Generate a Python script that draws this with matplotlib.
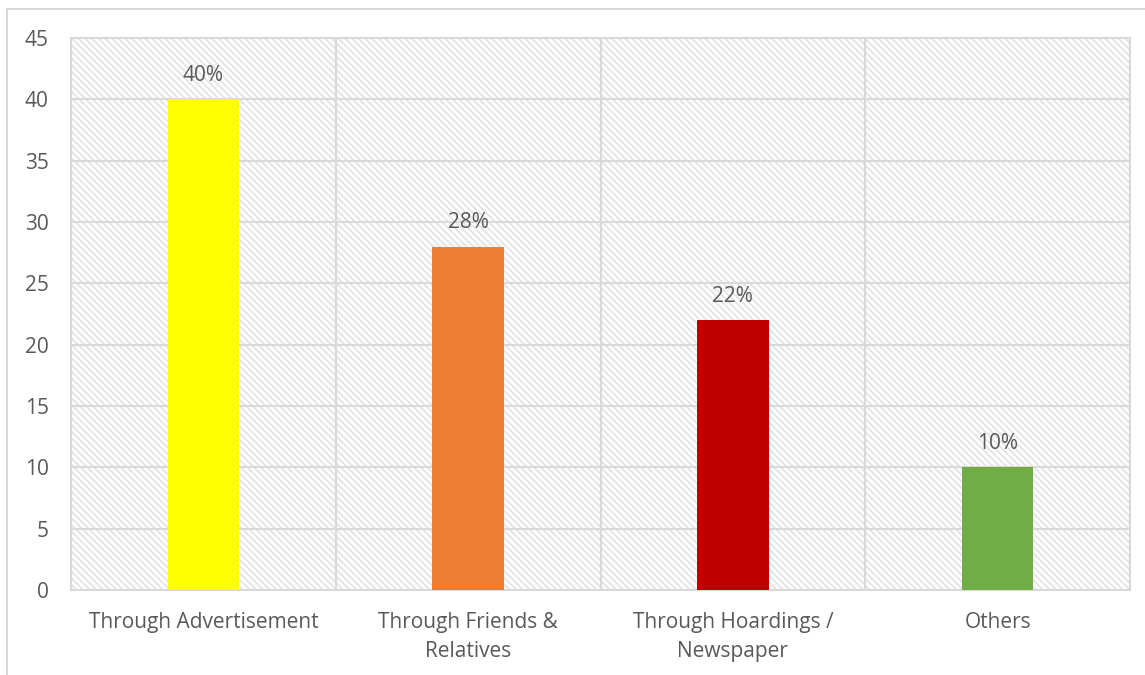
import matplotlib.pyplot as plt
import matplotlib.patches as mpatches
import numpy as np

# dados do grafico
categorias = ['Through Advertisement', 'Through Friends &\nRelatives',
              'Through Hoardings /\nNewspaper', 'Others']
valores = [40, 28, 22, 10]
rotulos = ['40%', '28%', '22%', '10%']
cores = ['#FFFF00', '#ED7D31', '#C00000', '#70AD47']
yticks = [0, 5, 10, 15, 20, 25, 30, 35, 40, 45]

plt.rcParams['font.family'] = ['Open Sans', 'DejaVu Sans']
plt.rcParams['hatch.color'] = '#e3e3e3'
plt.rcParams['hatch.linewidth'] = 1.3
cor_texto = '#595959'
tam = 15

fig = plt.figure(figsize=(11.45, 6.75), dpi=100)
ax = fig.add_axes([71/1145, 1 - 590/675, (1130 - 71)/1145, (590 - 38)/675])

# fundo hachurado
fundo = mpatches.Rectangle((0, 0), 1, 1, transform=ax.transAxes,
                           facecolor='white', edgecolor='#e3e3e3',
                           hatch='\\' * 5, linewidth=0, zorder=0)
ax.add_patch(fundo)

x = np.arange(len(categorias))
ax.bar(x, valores, width=0.27, color=cores, zorder=3)

for xi, v, r in zip(x, valores, rotulos):
    ax.text(xi, v + 1.1, r, ha='center', va='bottom', fontsize=tam,
            color=cor_texto, zorder=4)

ax.set_xlim(-0.5, len(categorias) - 0.5)
ax.set_ylim(0, 45)
ax.set_yticks(yticks)
ax.set_xticks(x)
ax.set_xticklabels(categorias, linespacing=1.5)
ax.set_xticks(np.arange(-0.5, len(categorias)), minor=True)

ax.grid(axis='y', which='major', color='#d9d9d9', linewidth=1.5, zorder=1)
ax.grid(axis='x', which='minor', color='#d9d9d9', linewidth=1.5, zorder=1)
ax.set_axisbelow(True)

for s in ax.spines.values():
    s.set_color('#d9d9d9')
    s.set_linewidth(1.5)

ax.tick_params(axis='both', which='both', length=0, labelsize=tam,
               labelcolor=cor_texto)
ax.tick_params(axis='y', pad=16)
ax.tick_params(axis='x', pad=16)

# borda externa
borda = mpatches.Rectangle((7/1145, -0.02), 1.05, 1 - 9/675 + 0.02,
                           transform=fig.transFigure, fill=False,
                           edgecolor='#d9d9d9', linewidth=1.5)
fig.patches.append(borda)

plt.savefig('out.png', dpi=100)
